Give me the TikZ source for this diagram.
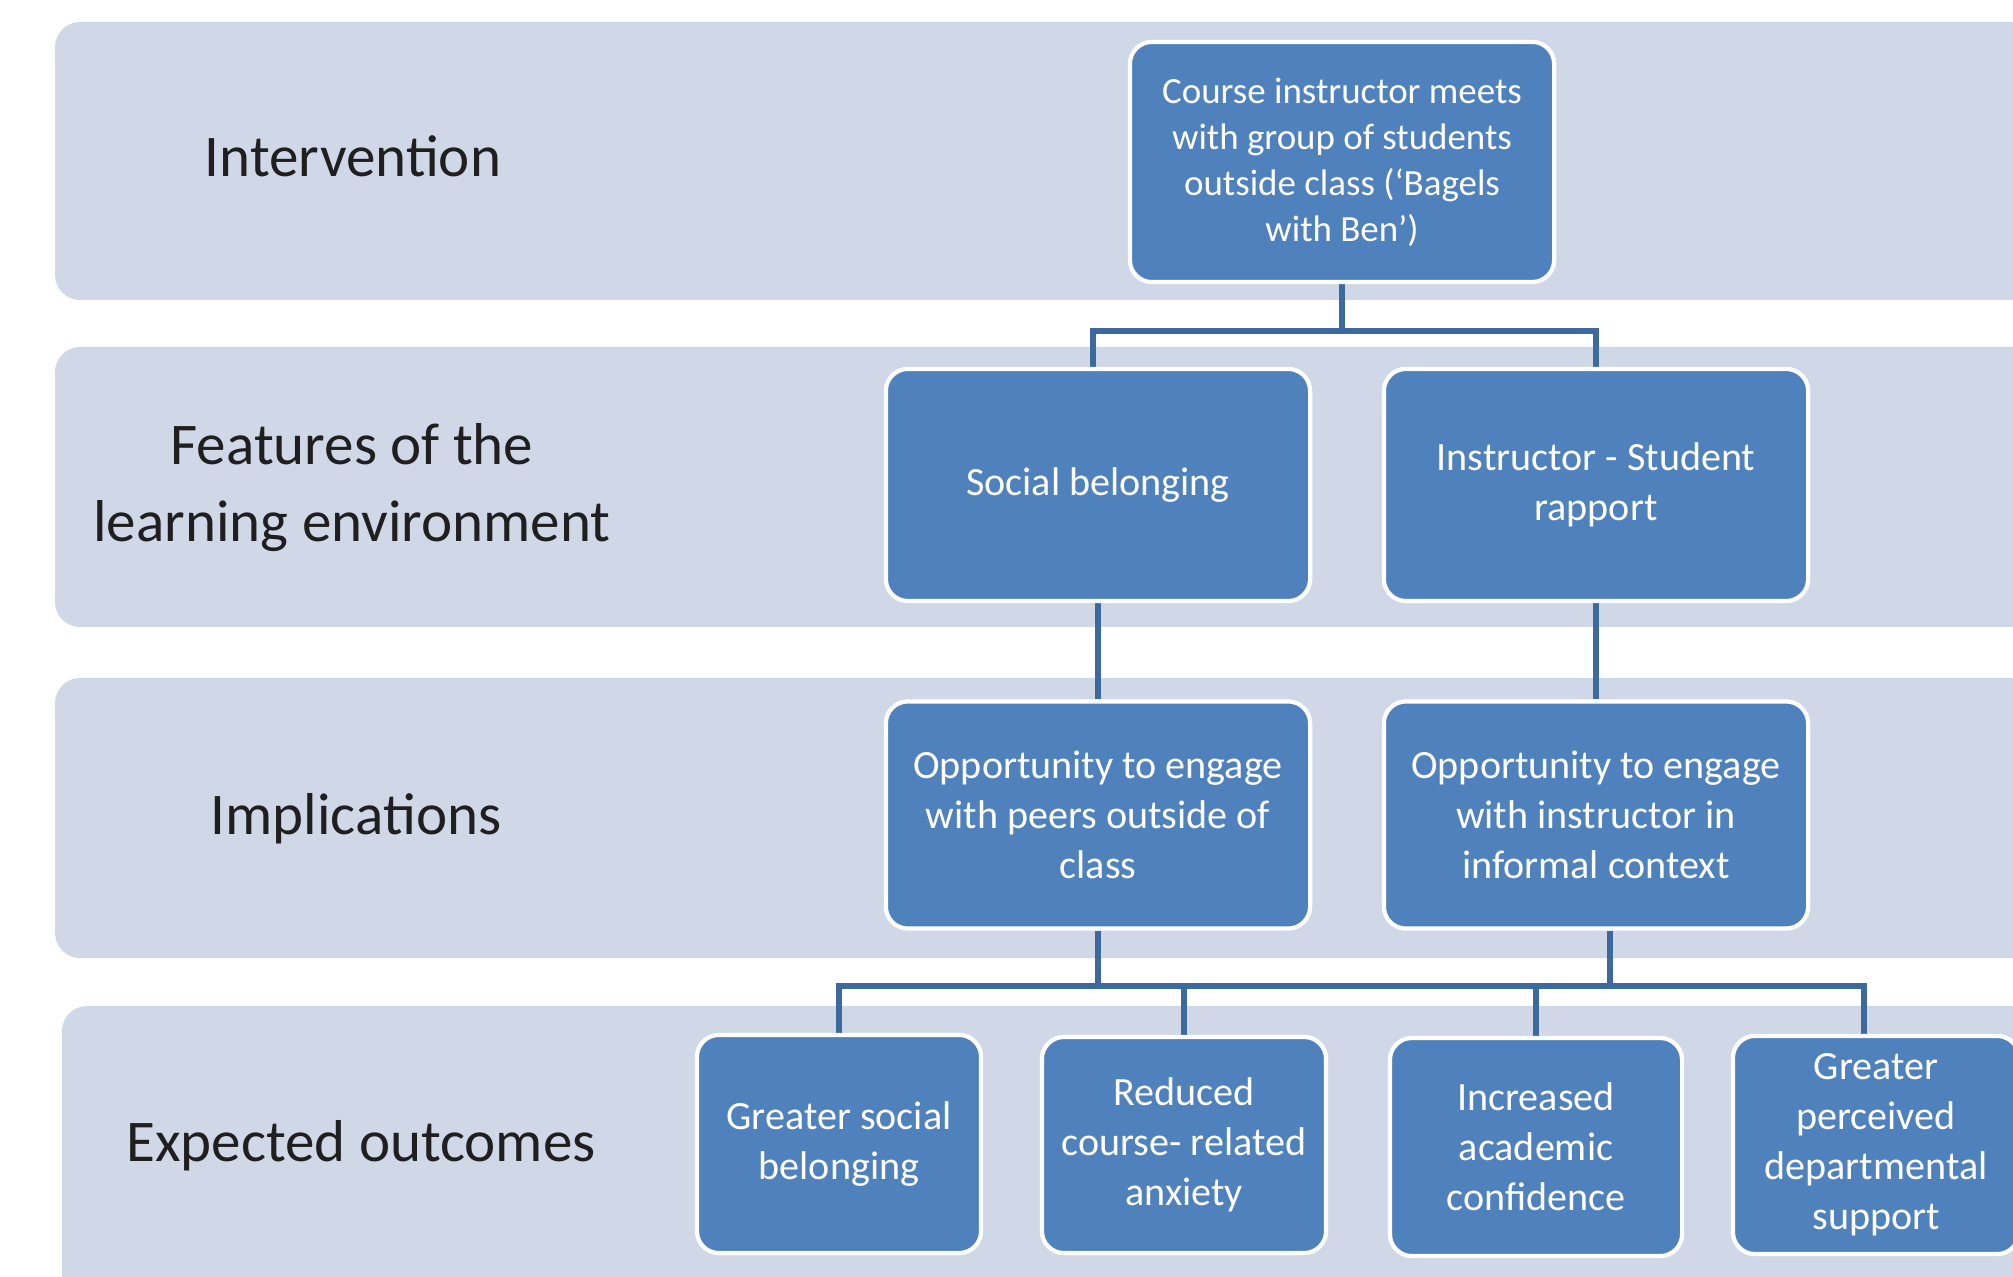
\documentclass[tikz,border=0pt]{standalone}
\usepackage{fontspec}
\setmainfont{Carlito}
\usetikzlibrary{backgrounds,calc}
\definecolor{bandfill}{HTML}{D0D8E8}
\definecolor{boxfill}{HTML}{4F81BD}
\definecolor{linkcol}{HTML}{3D6A9E}
\begin{document}
\begin{tikzpicture}[x=0.01cm,y=-0.01cm,
  band/.style={fill=bandfill, rounded corners=0.25cm},
  lvl/.style={align=center, text=black!88, inner sep=0pt,
    font=\fontsize{16.8}{21.9}\selectfont},
  box/.style={fill=boxfill, draw=white, line width=1.2pt, rounded corners=0.22cm,
    text=white, align=center, inner sep=2pt,
    font=\fontsize{11.4}{14.2}\selectfont},
  link/.style={draw=linkcol, line width=1.5pt}]
\useasboundingbox (0,0) rectangle (2013,1277);
\clip (0,0) rectangle (2013,1277);

% level labels
\node[lvl, anchor=base] (lIntervention) at (353,177) {Intervention};
\node[lvl] (lFeatures) at (352,488) {Features of the\\learning environment};
\node[lvl, anchor=base] (lImplications) at (356,835) {Implications};
\node[lvl, anchor=base] (lOutcomes) at (361,1161) {Expected outcomes};

% intervention
\node[box, minimum width=4.24cm, minimum height=2.40cm,
  font=\fontsize{10.5}{13.1}\selectfont] (top) at (1342,162)
  {Course instructor meets\\with group of students\\outside class (‘Bagels\\with Ben’)};

% features
\node[box, minimum width=4.24cm, minimum height=2.32cm] (sb) at (1098,485) {Social belonging};
\node[box, minimum width=4.24cm, minimum height=2.32cm] (ir) at (1596,485) {Instructor - Student\\rapport};

% implications
\node[box, minimum width=4.24cm, minimum height=2.27cm] (o1) at (1098,815)
  {Opportunity to engage\\with peers outside of\\class};
\node[box, minimum width=4.24cm, minimum height=2.27cm] (o2) at (1596,815)
  {Opportunity to engage\\with instructor in\\informal context};

% outcomes
\node[box, minimum width=2.84cm, minimum height=2.18cm] (b1) at (839,1144) {Greater social\\belonging};
\node[box, minimum width=2.84cm, minimum height=2.16cm] (b2) at (1184,1145) {Reduced\\course- related\\anxiety};
\node[box, minimum width=2.92cm, minimum height=2.18cm] (b3) at (1536,1147) {Increased\\academic\\confidence};
\node[box, minimum width=2.86cm, minimum height=2.18cm] (b4) at (1876,1145) {Greater\\perceived\\departmental\\support};

% bus lines and off-centre attachment points
\coordinate (bus1) at (0,331);
\coordinate (bus2) at (0,986);
\coordinate (sbIn) at ($(sb.north)+(-5,0)$);
\coordinate (o2Out) at ($(o2.south)+(14,0)$);
\coordinate (b4In) at ($(b4.north)+(-12,0)$);

\begin{scope}[on background layer]
  \fill[band] (55,22) rectangle (2150,300);
  \fill[band] (55,347) rectangle (2150,627);
  \fill[band] (55,678) rectangle (2150,958);
  \fill[band] (62,1006) rectangle (2150,1400);

  \draw[link] (top.south) -- (top.south |- bus1);
  \draw[link] (sbIn) |- (ir.north |- bus1) -- (ir.north);
  \draw[link] (sb.south) -- (o1.north);
  \draw[link] (ir.south) -- (o2.north);
  \draw[link] (o1.south) -- (o1.south |- bus2);
  \draw[link] (o2Out) -- (o2Out |- bus2);
  \draw[link] (b1.north) |- (b4In |- bus2) -- (b4In);
  \draw[link] (b2.north) -- (b2.north |- bus2);
  \draw[link] (b3.north) -- (b3.north |- bus2);
\end{scope}
\end{tikzpicture}
\end{document}
